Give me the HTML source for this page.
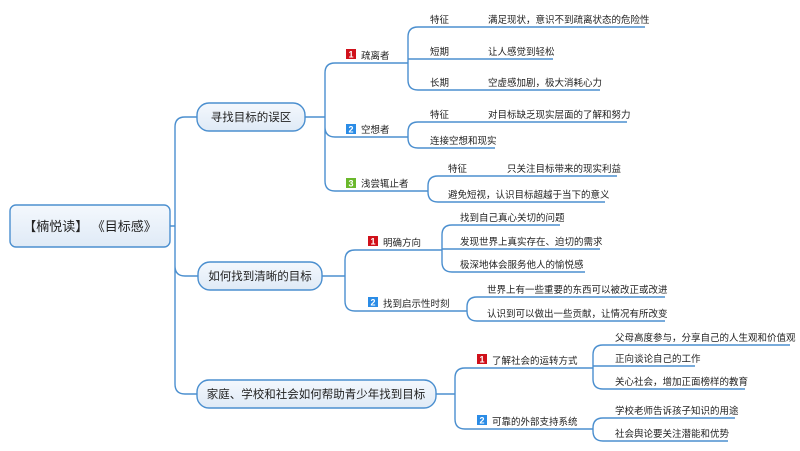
<!DOCTYPE html>
<html><head><meta charset="utf-8"><style>
html,body{margin:0;padding:0;background:#fff;}
svg{display:block;}
text{font-family:"Liberation Sans","Noto Sans CJK SC",sans-serif;fill:#222;}
.s{font-size:9.5px;}
.n{font-size:11.5px;}
.b{font-size:9px;font-weight:bold;fill:#fff;}
path{fill:none;stroke:#4b8fcf;stroke-width:1.4;}
</style></head><body>
<svg width="800" height="451" viewBox="0 0 800 451">
<defs><linearGradient id="g" x1="0" y1="0" x2="0" y2="1"><stop offset="0" stop-color="#f4f8fd"/><stop offset="1" stop-color="#dfeaf6"/></linearGradient></defs>
<path d="M170,226 H175 M175,226 V127 Q175,117 185,117 H197 M175,226 V266 Q175,276 185,276 H198 M175,226 V384 Q175,394 185,394 H197"/>
<path d="M305,117 H325 M325,117 V73 Q325,63 335,63 H405 M325,117 V127 Q325,137 335,137 H405 M325,117 V181 Q325,191 335,191 H420"/>
<path d="M405,63 H408 M408,63 V37 Q408,27 418,27 H645 M408,63 V59 H553 M408,63 V80 Q408,90 418,90 H600"/>
<path d="M405,137 H408 M408,137 V132 Q408,122 418,122 H627 M408,137 V138 Q408,148 418,148 H495"/>
<path d="M420,191 H428 M428,191 V186 Q428,176 438,176 H617 M428,191 V192 Q428,202 438,202 H605"/>
<path d="M322,276 H345 M345,276 V260 Q345,250 355,250 H440 M345,276 V301 Q345,311 355,311 H465"/>
<path d="M440,250 H442 M442,250 V235 Q442,225 452,225 H560 M442,249 H600 M442,250 V262 Q442,272 452,272 H585"/>
<path d="M465,311 H467 M467,311 V307 Q467,297 477,297 H665 M467,311 V311 Q467,321 477,321 H665"/>
<path d="M436,394 H455 M455,394 V378 Q455,368 465,368 H590 M455,394 V419 Q455,429 465,429 H590"/>
<path d="M590,368 H593 M593,368 V355 Q593,345 603,345 H790 M593,366 H695 M593,368 V379 Q593,389 603,389 H745"/>
<path d="M590,429 H593 M593,429 V428 Q593,418 603,418 H735 M593,429 V431 Q593,441 603,441 H728"/>
<rect x="10" y="205" width="160" height="42" rx="6" fill="url(#g)" stroke="#4b8fcf" stroke-width="1.4"/>
<text x="90" y="231" text-anchor="middle" style="font-size:13px;">【楠悦读】 《目标感》</text>
<rect x="197" y="103" width="108" height="28" rx="12" fill="url(#g)" stroke="#4b8fcf" stroke-width="1.4"/>
<text x="251" y="121" text-anchor="middle" class="n">寻找目标的误区</text>
<rect x="198" y="262" width="124" height="28" rx="12" fill="url(#g)" stroke="#4b8fcf" stroke-width="1.4"/>
<text x="260" y="280" text-anchor="middle" class="n">如何找到清晰的目标</text>
<rect x="197" y="380" width="239" height="28" rx="12" fill="url(#g)" stroke="#4b8fcf" stroke-width="1.4"/>
<text x="316" y="398" text-anchor="middle" class="n">家庭、学校和社会如何帮助青少年找到目标</text>
<rect x="346" y="49" width="10" height="10" fill="#d0111b"/><text x="351" y="57.5" text-anchor="middle" class="b">1</text>
<text x="361" y="59" class="s">疏离者</text>
<rect x="346" y="124" width="10" height="10" fill="#2b8ce6"/><text x="351" y="132.5" text-anchor="middle" class="b">2</text>
<text x="361" y="133" class="s">空想者</text>
<rect x="346" y="178" width="10" height="10" fill="#6ab82b"/><text x="351" y="186.5" text-anchor="middle" class="b">3</text>
<text x="361" y="187" class="s">浅尝辄止者</text>
<rect x="368" y="236" width="10" height="10" fill="#d0111b"/><text x="373" y="244.5" text-anchor="middle" class="b">1</text>
<text x="383" y="246" class="s">明确方向</text>
<rect x="368" y="297" width="10" height="10" fill="#2b8ce6"/><text x="373" y="305.5" text-anchor="middle" class="b">2</text>
<text x="383" y="307" class="s">找到启示性时刻</text>
<rect x="477" y="354" width="10" height="10" fill="#d0111b"/><text x="482" y="362.5" text-anchor="middle" class="b">1</text>
<text x="492" y="364" class="s">了解社会的运转方式</text>
<rect x="477" y="415" width="10" height="10" fill="#2b8ce6"/><text x="482" y="423.5" text-anchor="middle" class="b">2</text>
<text x="492" y="425" class="s">可靠的外部支持系统</text>
<text x="430" y="23" class="s">特征</text><text x="488" y="23" class="s">满足现状，意识不到疏离状态的危险性</text>
<text x="430" y="55" class="s">短期</text><text x="488" y="55" class="s">让人感觉到轻松</text>
<text x="430" y="86" class="s">长期</text><text x="488" y="86" class="s">空虚感加剧，极大消耗心力</text>
<text x="430" y="118" class="s">特征</text><text x="488" y="118" class="s">对目标缺乏现实层面的了解和努力</text>
<text x="430" y="144" class="s">连接空想和现实</text>
<text x="448" y="172" class="s">特征</text><text x="507" y="172" class="s">只关注目标带来的现实利益</text>
<text x="448" y="198" class="s">避免短视，认识目标超越于当下的意义</text>
<text x="460" y="221" class="s">找到自己真心关切的问题</text>
<text x="460" y="245" class="s">发现世界上真实存在、迫切的需求</text>
<text x="460" y="268" class="s">极深地体会服务他人的愉悦感</text>
<text x="487" y="293" class="s">世界上有一些重要的东西可以被改正或改进</text>
<text x="487" y="317" class="s">认识到可以做出一些贡献，让情况有所改变</text>
<text x="615" y="341" class="s">父母高度参与，分享自己的人生观和价值观</text>
<text x="615" y="362" class="s">正向谈论自己的工作</text>
<text x="615" y="385" class="s">关心社会，增加正面榜样的教育</text>
<text x="615" y="414" class="s">学校老师告诉孩子知识的用途</text>
<text x="615" y="437" class="s">社会舆论要关注潜能和优势</text>
</svg>
</body></html>
